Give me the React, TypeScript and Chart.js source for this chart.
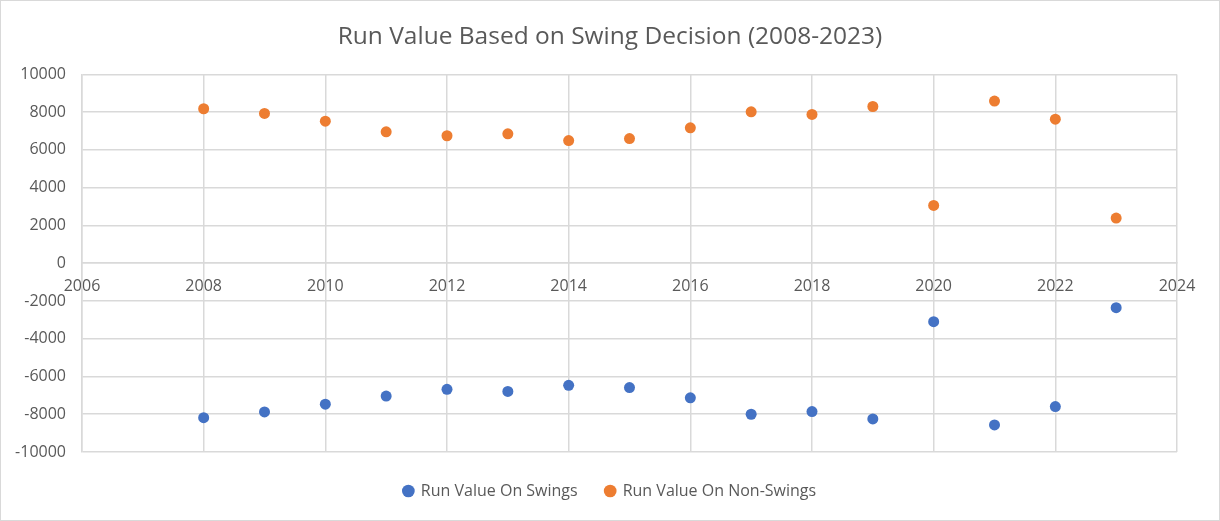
import React, { useEffect, useRef } from "react";
import { Chart, registerables } from "chart.js";

Chart.register(...registerables);

const years = [2008, 2009, 2010, 2011, 2012, 2013, 2014, 2015, 2016, 2017, 2018, 2019, 2020, 2021, 2022, 2023];
const swings = [-8180, -7880, -7470, -7040, -6680, -6790, -6470, -6585, -7130, -8000, -7860, -8250, -3095, -8565, -7595, -2355];
const nonSwings = [8180, 7930, 7520, 6960, 6750, 6850, 6495, 6600, 7170, 8020, 7880, 8300, 3060, 8585, 7630, 2390];
const titleText = "Run Value Based on Swing Decision (2008-2023)";
const seriesNames = ["Run Value On Swings", "Run Value On Non-Swings"];

const FONT = "'Open Sans', 'Liberation Sans', sans-serif";
const TEXT = "#595959";
const GRID = "#d9d9d9";

export default function App() {
  const ref = useRef<HTMLCanvasElement | null>(null);

  useEffect(() => {
    document.body.style.margin = "0";
    const ctx = ref.current!.getContext("2d")!;
    const chart = new Chart(ctx, {
      type: "scatter",
      data: {
        datasets: [
          {
            label: seriesNames[0],
            data: years.map((y, i) => ({ x: y, y: swings[i] })),
            backgroundColor: "#4472C4",
            borderColor: "#4472C4",
            pointRadius: 5.5,
            pointHoverRadius: 5.5,
            pointBorderWidth: 0,
          },
          {
            label: seriesNames[1],
            data: years.map((y, i) => ({ x: y, y: nonSwings[i] })),
            backgroundColor: "#ED7D31",
            borderColor: "#ED7D31",
            pointRadius: 5.5,
            pointHoverRadius: 5.5,
            pointBorderWidth: 0,
          },
        ],
      },
      options: {
        animation: false,
        responsive: false,
        maintainAspectRatio: false,
        layout: { padding: { left: 0, right: 0, top: 0, bottom: 11 } },
        plugins: {
          tooltip: { enabled: false },
          title: {
            display: true,
            text: titleText,
            color: TEXT,
            font: { family: FONT, size: 24.5, weight: "normal" },
            padding: { top: 21, bottom: 23 },
          },
          legend: {
            position: "bottom",
            labels: {
              usePointStyle: true,
              pointStyle: "circle",
              boxWidth: 9,
              boxHeight: 9,
              padding: 28,
              color: TEXT,
              font: { family: FONT, size: 16 },
            },
          },
        },
        scales: {
          x: {
            type: "linear",
            position: { y: 0 } as any,
            min: 2006,
            max: 2024,
            ticks: {
              stepSize: 2,
              color: TEXT,
              font: { family: FONT, size: 16 },
              padding: 14,
              callback: (v: any) => String(v),
            },
            grid: { color: GRID, lineWidth: 1.5, drawTicks: false },
            border: { color: GRID, width: 1.5 },
          },
          xPad: {
            type: "linear",
            position: "bottom",
            display: true,
            grid: { display: false, drawTicks: false },
            border: { display: false },
            ticks: { display: false },
            afterFit: (s: any) => {
              s.height = 3;
            },
          },
          y: {
            type: "linear",
            min: -10000,
            max: 10000,
            ticks: {
              stepSize: 2000,
              color: TEXT,
              font: { family: FONT, size: 16 },
              padding: 16,
              callback: (v: any) => String(v),
            },
            grid: { color: GRID, lineWidth: 1.5, drawTicks: false },
            border: { color: GRID, width: 1.5 },
            afterFit: (s: any) => {
              s.width = 81;
            },
          },
          yPad: {
            type: "linear",
            position: "right",
            display: true,
            grid: { display: false, drawTicks: false },
            border: { display: false },
            ticks: { display: false },
            afterFit: (s: any) => {
              s.width = 42;
            },
          },
        },
      },
    });
    return () => chart.destroy();
  }, []);

  return (
    <div
      style={{
        position: "absolute",
        left: 0,
        top: 0,
        width: 1220,
        height: 521,
        boxSizing: "border-box",
        border: "1px solid #d9d9d9",
        background: "#fff",
      }}
    >
      <canvas ref={ref} width={1218} height={519} style={{ display: "block", width: 1218, height: 519 }} />
    </div>
  );
}
